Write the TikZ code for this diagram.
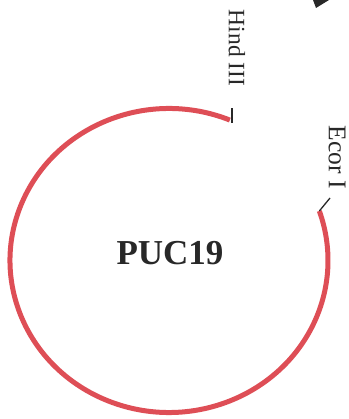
\documentclass[tikz,border=0pt]{standalone}
\usepackage{fontspec}
\setmainfont{Liberation Serif}
\definecolor{ringred}{RGB}{222,78,86}
\definecolor{inkgray}{RGB}{40,40,40}
\begin{document}
\begin{tikzpicture}[x=1pt,y=1pt,
  ring/.style={draw=ringred,line width=5pt},
  site/.style={draw=inkgray,line width=1.3pt},
  sitelabel/.style={text=inkgray,inner sep=0pt,rotate=-90}]
\useasboundingbox (0,0) rectangle (348,419);
\coordinate (c) at (169,158.5);
\draw[ring] (c) ++(67.5:159 and 152) coordinate (hindend)
  arc[start angle=67.5,end angle=379,x radius=159,y radius=152] coordinate (ecorend);
\coordinate (hindtop) at (232,311);
\coordinate (hindbot) at (232,296);
\draw[site] (hindbot) -- (hindtop);
\coordinate (ecortop) at (330,221);
\draw[site] (ecorend) -- (ecortop);
\node[sitelabel,font=\fontsize{23.5}{24}\selectfont] (hind) at (237,371) {Hind III};
\node[sitelabel,font=\fontsize{25.5}{26}\selectfont] (ecor) at (337,262) {Ecor I};
\node[text=inkgray,font=\bfseries\fontsize{35}{35}\selectfont,inner sep=0pt] (puc) at (170,166) {PUC19};
\fill[inkgray] (313,419) -- (329,419) -- (316,411) -- cycle;
\end{tikzpicture}
\end{document}
